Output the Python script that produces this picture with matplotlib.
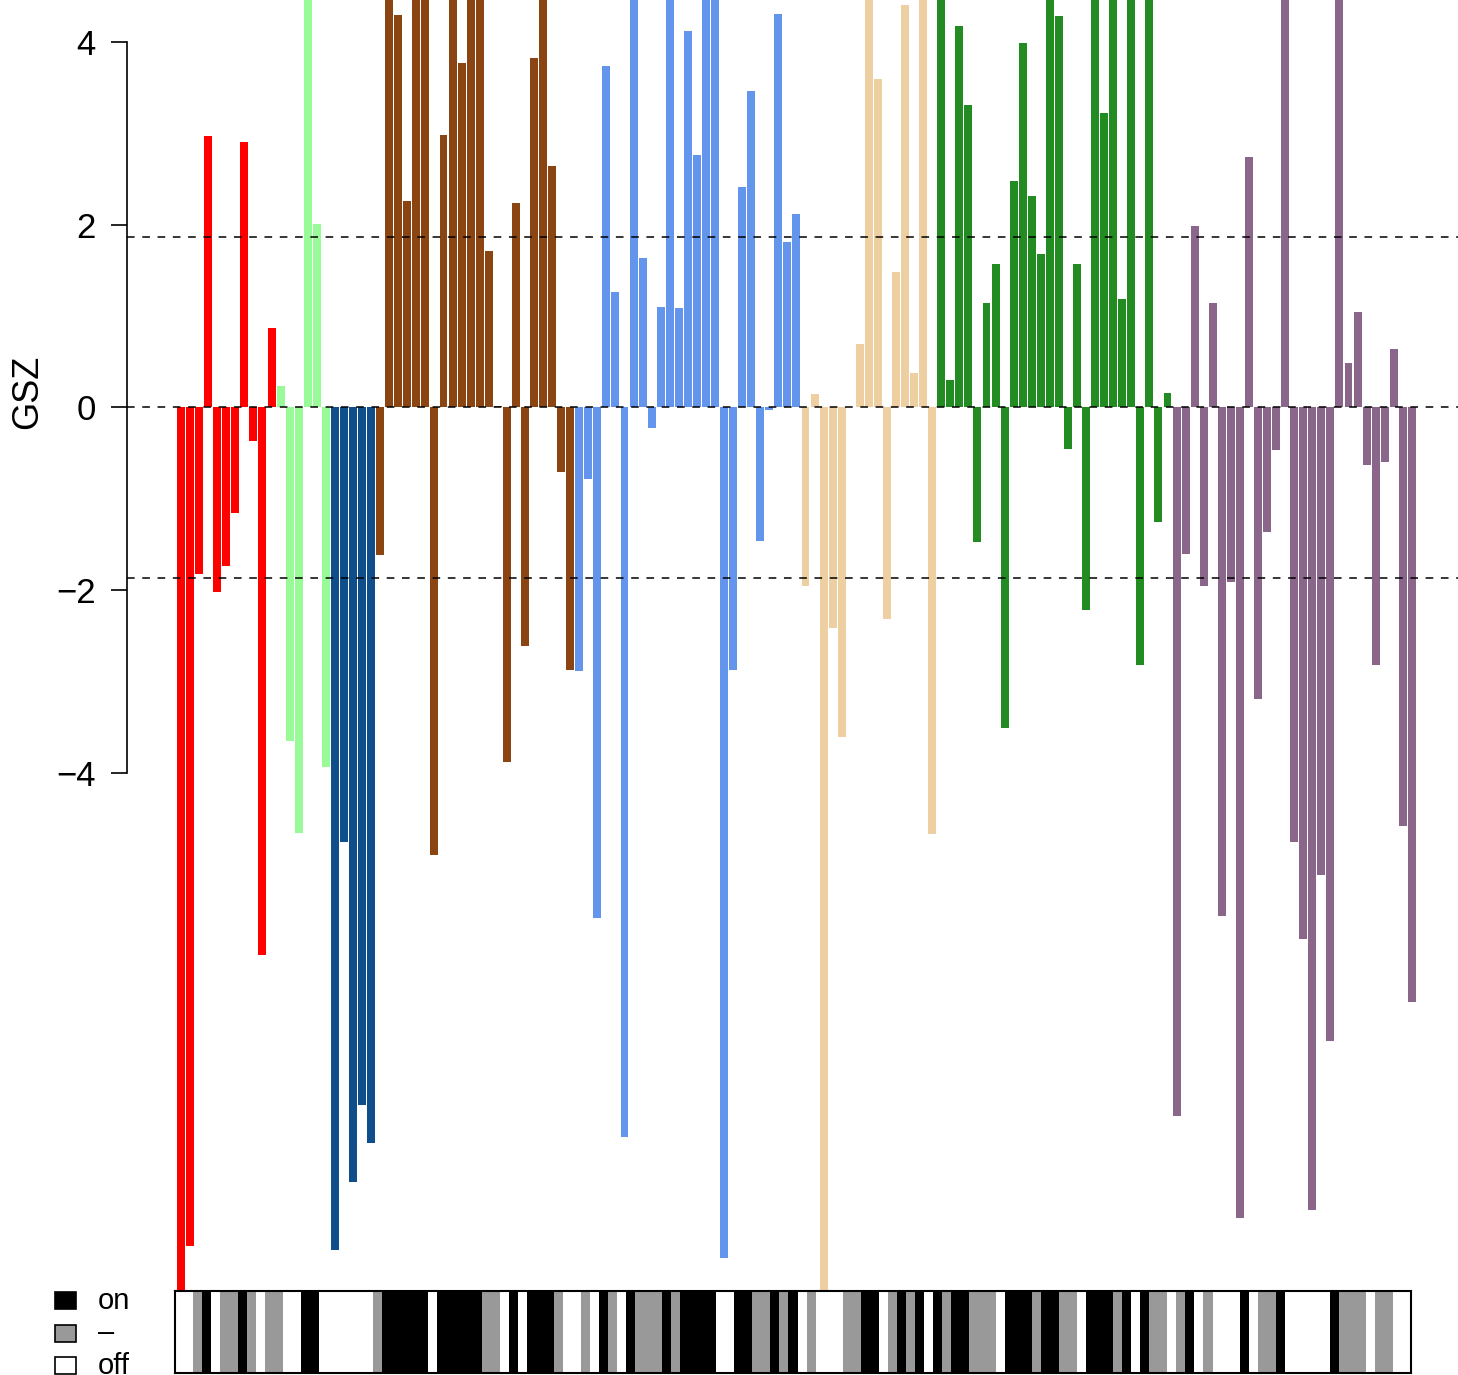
import matplotlib
matplotlib.use("Agg")
import matplotlib.pyplot as plt
from matplotlib.colors import ListedColormap
from matplotlib.patches import Rectangle
import numpy as np

plt.rcParams['font.family'] = ['Liberation Sans', 'DejaVu Sans']

# group colours and how many bars each group has
group_colors = ["#FF0000", "#98FB98", "#104E8B", "#8B4513",
                "#6495ED", "#EECFA1", "#228B22", "#8B668B"]
group_sizes = [11, 6, 5, 22, 25, 15, 26, 27]

# GSZ score per bar (bars running off the plot read as 5 / -10)
gsz = [
    -10.0, -9.18, -1.82, 2.97, -2.02, -1.74, -1.16, 2.91, -0.37, -5.99, 0.87,
    0.23, -3.65, -4.66, 5.0, 2.01, -3.94,
    -9.22, -4.76, -8.48, -7.64, -8.05,
    -1.62, 5.0, 4.30, 2.26, 5.0, 5.0, -4.90, 2.98, 5.0, 3.77, 5.0, 5.0, 1.71,
    0.02, -3.88, 2.24, -2.61, 3.83, 5.0, 2.64, -0.71, -2.87,
    -2.89, -0.78, -5.59, 3.74, 1.26, -7.99, 5.0, 1.64, -0.23, 1.10, 5.0, 1.09,
    4.12, 2.76, 5.0, 5.0, -9.31, -2.87, 2.41, 3.46, -1.46, -0.03, 4.31, 1.81,
    2.12,
    -1.95, 0.15, -10.0, -2.41, -3.61, 0.0, 0.69, 5.0, 3.60, -2.32, 1.48, 4.40,
    0.38, 5.0, -4.67,
    5.0, 0.30, 4.18, 3.31, -1.47, 1.14, 1.57, -3.51, 2.48, 3.99, 2.31, 1.68,
    5.0, 4.29, -0.45, 1.57, -2.22, 5.0, 3.22, 5.0, 1.19, 5.0, -2.82, 5.0,
    -1.25, 0.16,
    -7.75, -1.60, 1.99, -1.95, 1.14, -5.57, -1.91, -8.87, 2.74, -3.19, -1.36,
    -0.47, 5.0, -4.76, -5.82, -8.78, -5.12, -6.93, 5.0, 0.49, 1.05, -0.63,
    -2.82, -0.60, 0.64, -4.58, -6.51,
]
cutoff = 1.87
state_labels = ["on", "\u2013", "off"]
state_colors = ["#000000", "#999999", "#FFFFFF"]

gsz = np.array(gsz)
n = len(gsz)
colors = []
for c, k in zip(group_colors, group_sizes):
    colors += [c] * k

W, H = 1458, 1375
fig = plt.figure(figsize=(W / 100, H / 100), dpi=100)

# main bar panel
ax = fig.add_axes([127 / W, (H - 1290) / H, (W - 127) / W, 1290 / H])
x = np.arange(n)
ax.bar(x, gsz, width=0.88, color=colors, linewidth=0, zorder=1)
for yv in (cutoff, 0, -cutoff):
    ax.axhline(yv, color="black", lw=1.1, linestyle=(0, (5, 5)), zorder=3)

ax.set_xlim(-5.97, 141.1)
ax.set_ylim(-9.66, 4.46)
for s in ("top", "right", "bottom"):
    ax.spines[s].set_visible(False)
ax.spines["left"].set_bounds(-4, 4)
ax.spines["left"].set_linewidth(1.2)
ax.set_xticks([])
ax.set_yticks([-4, -2, 0, 2, 4])
ax.tick_params(axis="y", direction="out", length=11.5, width=1.2,
               labelsize=25, pad=11)
fig.text(28 / W, 1 - 392 / H, "GSZ", rotation=90, ha="center", va="center",
         fontsize=26)

# on / - / off strip under the bars
state = np.where(gsz > cutoff, 0, np.where(gsz < -cutoff, 2, 1))
sax = fig.add_axes([175 / W, (H - 1373) / H, 1236 / W, 82 / H])
sax.imshow(state[np.newaxis, :], aspect="auto", interpolation="nearest",
           cmap=ListedColormap(state_colors), vmin=0, vmax=2,
           extent=(-0.5, n - 0.5, 0, 1))
sax.set_xticks([])
sax.set_yticks([])
for sp in sax.spines.values():
    sp.set_linewidth(1.5)

# legend for the strip
lax = fig.add_axes([0, 0, 1, 1])
lax.set_xlim(0, W)
lax.set_ylim(H, 0)
lax.axis("off")
for i, (lab, col) in enumerate(zip(state_labels, state_colors)):
    top = 1292 + i * 32.5
    lax.add_patch(Rectangle((55, top), 21, 17, facecolor=col,
                            edgecolor="black", lw=1.2))
    lax.text(98, top + 9, lab, fontsize=21, ha="left", va="center")

fig.savefig("out.png", dpi=100)
